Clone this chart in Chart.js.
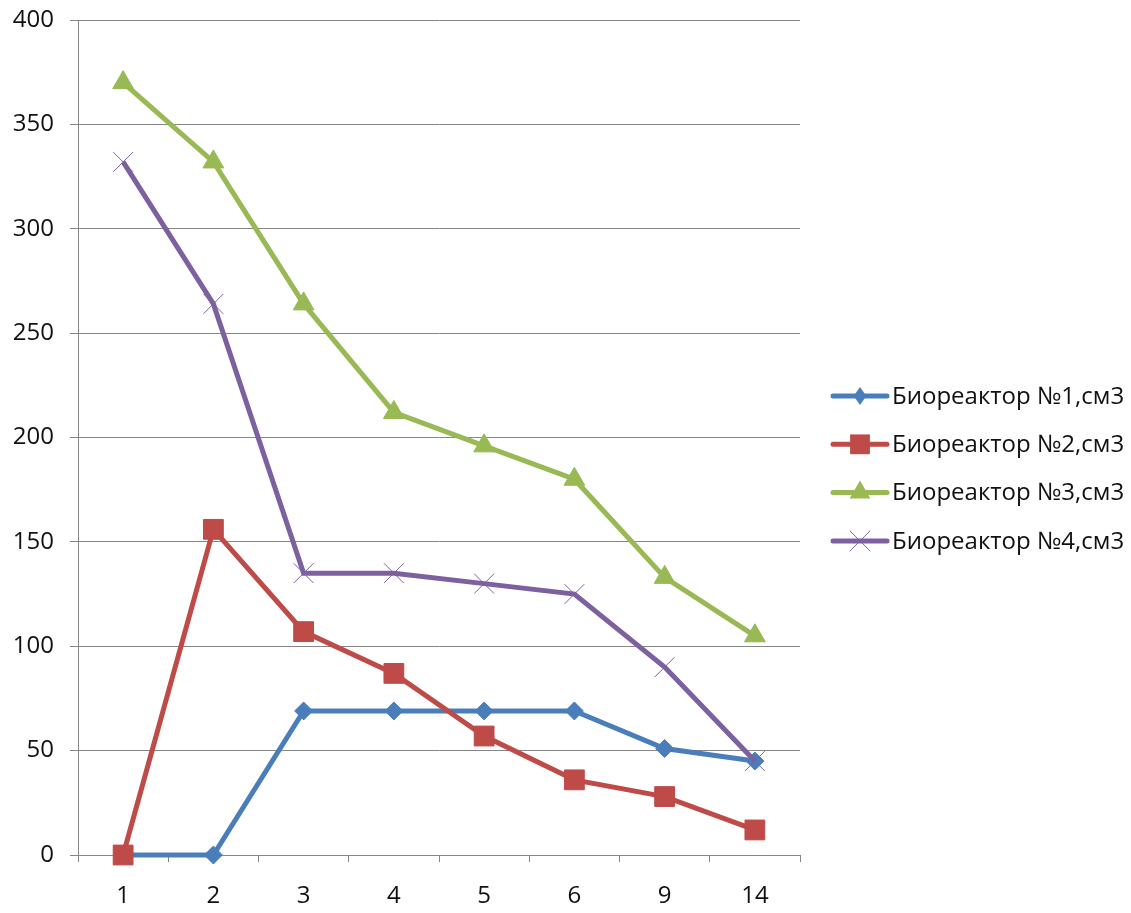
<!DOCTYPE html>
<html>
<head>
<meta charset="utf-8">
<script src="https://cdn.jsdelivr.net/npm/chart.js@4.4.1/dist/chart.umd.min.js"></script>
<style>
  html, body { margin: 0; padding: 0; background: #fff; }
  #wrap { width: 1131px; height: 913px; }
</style>
</head>
<body>
<div id="wrap"><canvas id="c" width="1131" height="913"></canvas></div>
<script>
// Days of measurement
const categories = ['1', '2', '3', '4', '5', '6', '9', '14'];

// Gas volume per bioreactor, cm3
const reactor1 = [0, 0, 69, 69, 69, 69, 51, 45];
const reactor2 = [0, 156, 107, 87, 57, 36, 28, 12];
const reactor3 = [370, 332, 264, 212, 196, 180, 133, 105];
const reactor4 = [332, 264, 135, 135, 130, 125, 90, 45];

const seriesNames = [
  'Биореактор №1,см3',
  'Биореактор №2,см3',
  'Биореактор №3,см3',
  'Биореактор №4,см3'
];

const yTicks = { min: 0, max: 400, step: 50 };

const FONT = 'Open Sans';
const FONT_SIZE = 24;
const GRID = '#868686';

const styles = [
  { color: '#4a7ebb', marker: 'rectRot', radius: 9, pbw: 1 },
  { color: '#be4b48', marker: 'rect', radius: 14, pbw: 1 },
  { color: '#98b954', marker: 'triangle', radius: 12, pbw: 1 },
  { color: '#7d60a0', marker: 'crossRot', radius: 14, pbw: 1 }
];

const values = [reactor1, reactor2, reactor3, reactor4];

const datasets = values.map((v, i) => ({
  label: seriesNames[i],
  data: v,
  borderColor: styles[i].color,
  backgroundColor: styles[i].color,
  borderWidth: 5,
  pointStyle: styles[i].marker,
  pointRadius: styles[i].radius,
  pointHoverRadius: styles[i].radius,
  pointBorderWidth: styles[i].pbw,
  pointBorderColor: styles[i].color,
  pointBackgroundColor: styles[i].color,
  tension: 0,
  clip: false,
  order: 4 - i
}));

function drawMarker(ctx, type, x, y, r, color) {
  ctx.save();
  ctx.fillStyle = color;
  ctx.strokeStyle = color;
  ctx.lineWidth = 1;
  ctx.beginPath();
  if (type === 'rectRot') {
    ctx.moveTo(x, y - r); ctx.lineTo(x + r * 0.7, y); ctx.lineTo(x, y + r); ctx.lineTo(x - r * 0.7, y);
    ctx.closePath(); ctx.fill();
  } else if (type === 'rect') {
    const s = r * Math.SQRT1_2;
    ctx.rect(x - s, y - s, 2 * s, 2 * s); ctx.fill();
  } else if (type === 'triangle') {
    ctx.moveTo(x, y - r);
    ctx.lineTo(x + r * Math.sin(Math.PI / 3), y + r * 0.5);
    ctx.lineTo(x - r * Math.sin(Math.PI / 3), y + r * 0.5);
    ctx.closePath(); ctx.fill();
  } else if (type === 'crossRot') {
    const s = r * Math.SQRT1_2;
    ctx.moveTo(x - s, y - s); ctx.lineTo(x + s, y + s);
    ctx.moveTo(x + s, y - s); ctx.lineTo(x - s, y + s);
    ctx.stroke();
  }
  ctx.restore();
}

// Legend drawn at the right of the plot: a line segment with the series marker, then the name
const sideLegend = {
  id: 'sideLegend',
  afterDraw(chart) {
    const ctx = chart.ctx;
    const area = chart.chartArea;
    const x0 = area.right + 33;
    const lineLen = 54;
    const top = 396;
    const gap = 48.3;
    ctx.save();
    ctx.font = FONT_SIZE + 'px "' + FONT + '"';
    ctx.textBaseline = 'middle';
    ctx.textAlign = 'left';
    seriesNames.forEach((name, i) => {
      const y = top + i * gap;
      const st = styles[i];
      ctx.strokeStyle = st.color;
      ctx.lineWidth = 5;
      ctx.lineCap = 'round';
      ctx.beginPath();
      ctx.moveTo(x0, y);
      ctx.lineTo(x0 + lineLen, y);
      ctx.stroke();
      drawMarker(ctx, st.marker, x0 + lineLen / 2, y, st.radius, st.color);
      ctx.fillStyle = '#111';
      ctx.fillText(name, x0 + lineLen + 5, y + 1);
    });
    ctx.restore();
  }
};

new Chart(document.getElementById('c'), {
  type: 'line',
  data: { labels: categories, datasets },
  options: {
    responsive: false,
    animation: false,
    devicePixelRatio: 1,
    layout: { padding: { left: 0, right: 331, top: 20, bottom: 0 } },
    plugins: {
      legend: { display: false },
      tooltip: { enabled: false }
    },
    scales: {
      x: {
        type: 'category',
        offset: true,
        grid: {
          offset: true,
          drawOnChartArea: false,
          drawTicks: true,
          tickLength: 7,
          color: GRID,
          lineWidth: 1
        },
        border: { color: GRID, width: 1 },
        ticks: {
          color: '#111',
          font: { family: FONT, size: FONT_SIZE },
          padding: 20,
          maxRotation: 0
        },
        afterFit(scale) { scale.height = 58; }
      },
      y: {
        min: yTicks.min,
        max: yTicks.max,
        ticks: {
          stepSize: yTicks.step,
          color: '#111',
          font: { family: FONT, size: FONT_SIZE },
          padding: 16
        },
        grid: {
          color: GRID,
          lineWidth: 1,
          tickLength: 8
        },
        border: { color: GRID, width: 1 },
        afterFit(scale) { scale.width = 78; scale.paddingTop = 0; }
      }
    }
  },
  plugins: [sideLegend]
});
</script>
</body>
</html>
